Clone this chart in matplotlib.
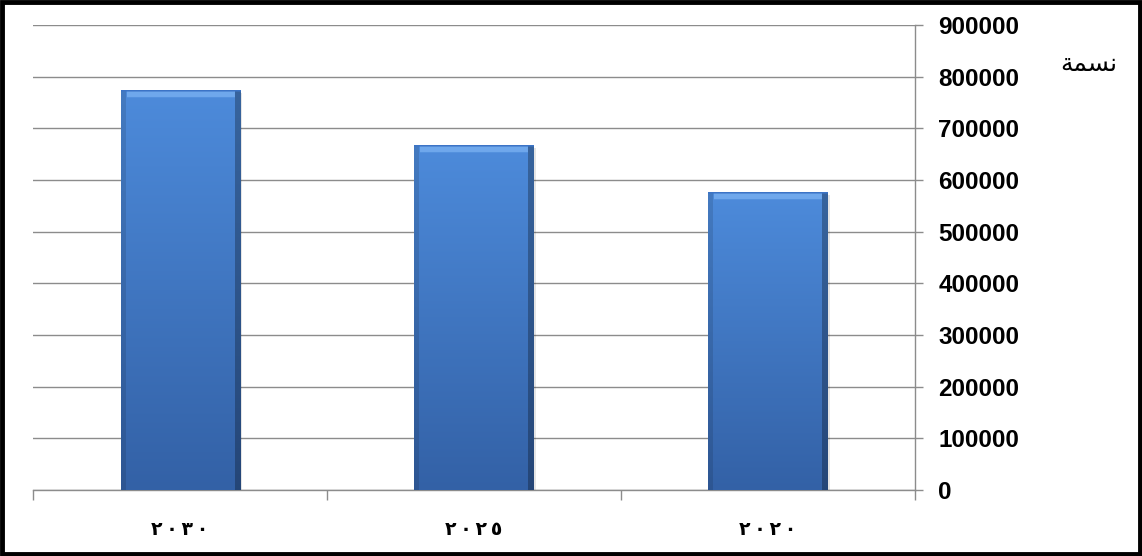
import matplotlib
matplotlib.use("Agg")
import matplotlib.pyplot as plt
import numpy as np
from matplotlib.patches import Rectangle

years = ["٢٠٣٠", "٢٠٢٥", "٢٠٢٠"]
population = [774000, 667000, 576000]
y_ticks = [0, 100000, 200000, 300000, 400000, 500000, 600000, 700000, 800000, 900000]
unit_label = "\uFE94\uFEE4\uFEB4\uFEE7"  # نسمة, shaped glyphs in visual order

fig = plt.figure(figsize=(11.42, 5.56), dpi=100)
ax = fig.add_axes([0.029, 0.119, 0.772, 0.836])

x = np.arange(len(years))
bars = ax.bar(x, population, width=0.405, color="#4a83d4", edgecolor="none", zorder=3)

top_col = np.array([0x4d, 0x8b, 0xdb]) / 255
bot_col = np.array([0x33, 0x61, 0xa6]) / 255
for b in bars:
    x0, w, h = b.get_x(), b.get_width(), b.get_height()
    # soft shadow under / right of the bar
    ax.add_patch(Rectangle((x0 + 0.008, -6000), w, h, facecolor="#000000",
                           alpha=0.10, edgecolor="none", zorder=2))
    ny, nx = int(h / 1000), 120
    yy = np.linspace(1, 0, ny)[:, None]            # 1 at top
    xx = np.linspace(0, 1, nx)[None, :]
    col = bot_col + (top_col - bot_col) * yy[..., None]
    # bevel at the sides
    side = np.ones((1, nx))
    side[:, xx[0] > 0.955] = 0.72
    side[:, xx[0] < 0.035] = 0.88
    img = col * side[..., None]
    # light bevel at the top
    top_rows = int(14000 / 1000)
    img[:top_rows, 6:-6] = np.array([0x6f, 0xa8, 0xec]) / 255
    img[:3, :] = np.array([0x3c, 0x74, 0xc6]) / 255
    im = ax.imshow(np.clip(img, 0, 1), extent=(x0, x0 + w, 0, h), aspect="auto",
                   zorder=3.5, interpolation="bilinear")
    im.set_clip_path(b)

ax.set_xlim(-0.5, len(years) - 0.5)
ax.set_ylim(0, 900000)

ax.yaxis.tick_right()
ax.set_yticks(y_ticks)
ax.set_yticklabels([str(v) for v in y_ticks], fontsize=17.5, fontweight="bold",
                   family=["Liberation Sans", "DejaVu Sans"])
ax.tick_params(axis="y", direction="out", length=6, width=1, color="#8c8c8c", pad=11)
ax.grid(axis="y", color="#8c8c8c", linewidth=1, zorder=0)

ax.set_xticks(x)
ax.set_xticklabels(["\u2009".join(y) for y in years], fontsize=13.5, fontweight="bold",
                   family=["DejaVu Sans"])
ax.tick_params(axis="x", which="major", length=0, pad=22)
ax.set_xticks(np.arange(-0.5, len(years), 1.0), minor=True)
ax.tick_params(axis="x", which="minor", direction="out", length=7, width=1, color="#8c8c8c")

for side in ["left", "top"]:
    ax.spines[side].set_visible(False)
for side in ["right", "bottom"]:
    ax.spines[side].set_color("#8c8c8c")
    ax.spines[side].set_linewidth(1)

fig.text(0.953, 0.885, unit_label, fontsize=18, ha="center", va="center",
         family=["DejaVu Sans"])

fig.add_artist(Rectangle((0.0015, 0.003), 0.997, 0.994, transform=fig.transFigure,
                         fill=False, edgecolor="black", linewidth=3.5))

fig.savefig("out.png", dpi=100)
